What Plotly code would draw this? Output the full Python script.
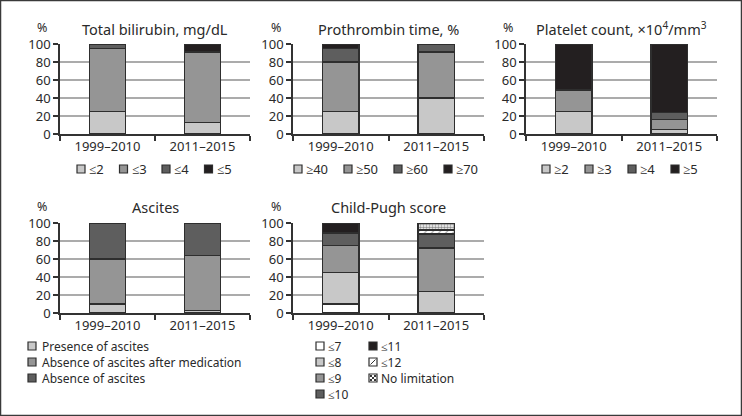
import plotly.graph_objects as go

# ---------------- data ----------------
periods = ["1999–2010", "2011–2015"]

bili_names = ["≤2", "≤3", "≤4", "≤5"]
bili_1999 = [25, 70, 5, 0]
bili_2011 = [13, 78, 0, 9]

pt_names = ["≥40", "≥50", "≥60", "≥70"]
pt_1999 = [25, 55, 15, 5]
pt_2011 = [40, 51, 9, 0]

plt_names = ["≥2", "≥3", "≥4", "≥5"]
plt_1999 = [25, 24, 0, 51]
plt_2011 = [5, 11, 8, 76]

asc_names = ["Presence of ascites", "Absence of ascites after medication", "Absence of ascites"]
asc_1999 = [10, 50, 40]
asc_2011 = [3, 61, 36]

cp_names = ["≤7", "≤8", "≤9", "≤10", "≤11", "≤12", "No limitation"]
cp_1999 = [10, 35, 30, 14, 11, 0, 0]
cp_2011 = [0, 24, 48, 16, 0, 4, 8]

y_ticks = [0, 20, 40, 60, 80, 100]

# ---------------- styles ----------------
W, H = 742, 416
LIGHT, MID, DARK, BLACK, WHITE = "#c8c8c8", "#959595", "#5e5e5e", "#231f20", "#ffffff"
EDGE = "#2e2e2e"
TXT = "#2a2a2a"
FONT = "Noto Sans"

def px(x):
    return x / W

def py(y):
    return 1 - y / H

four_cols = [LIGHT, MID, DARK, BLACK]
panels = [
    dict(title="Total bilirubin, mg/dL", names=bili_names, v1=bili_1999, v2=bili_2011,
         colors=four_cols, x0=60, x1=250, row=0, pct=42),
    dict(title="Prothrombin time, %", names=pt_names, v1=pt_1999, v2=pt_2011,
         colors=four_cols, x0=293, x1=484, row=0, pct=276),
    dict(title="Platelet count, ×10<sup>4</sup>/mm<sup>3</sup>", names=plt_names, v1=plt_1999, v2=plt_2011,
         colors=four_cols, x0=526, x1=717, row=0, pct=508),
    dict(title="Ascites", names=asc_names, v1=asc_1999, v2=asc_2011,
         colors=[LIGHT, MID, DARK], x0=60, x1=250, row=1, pct=42),
    dict(title="Child-Pugh score", names=cp_names, v1=cp_1999, v2=cp_2011,
         colors=[WHITE, LIGHT, MID, DARK, BLACK, WHITE, WHITE], x0=293, x1=484, row=1, pct=276),
]
rows_px = [(44, 134), (223, 313)]   # (y of 100, y of 0) in pixels
title_y = [29, 207]

patterns = {"≤12": dict(shape="/", fgcolor="#333333", bgcolor="white", size=5, solidity=0.2),
            "No limitation": dict(shape=".", fgcolor="#222222", bgcolor="white", size=3, solidity=0.55)}

fig = go.Figure()
layout = dict(width=W, height=H, margin=dict(l=0, r=0, t=0, b=0, pad=0),
              paper_bgcolor="white", plot_bgcolor="white", barmode="stack",
              showlegend=False, font=dict(family=FONT, size=13, color=TXT))
annotations = []
shapes = []

for i, p in enumerate(panels, start=1):
    xa = "x" if i == 1 else f"x{i}"
    ya = "y" if i == 1 else f"y{i}"
    for k, name in enumerate(p["names"]):
        marker = dict(color=p["colors"][k], line=dict(color=EDGE, width=1.5))
        if p["title"] == "Child-Pugh score" and name in patterns:
            marker["pattern"] = patterns[name]
        fig.add_trace(go.Bar(x=periods, y=[p["v1"][k], p["v2"][k]], name=name,
                             marker=marker, width=0.38, xaxis=xa, yaxis=ya,
                             hovertemplate=name + ": %{y}%<extra></extra>"))
    top, bot = rows_px[p["row"]]
    layout["xaxis" if i == 1 else f"xaxis{i}"] = dict(
        domain=[px(p["x0"]), px(p["x1"])], anchor=ya, type="category", automargin=False,
        tickson="boundaries", ticks="outside", ticklen=5, tickwidth=1.5, tickcolor="#333",
        showline=True, linecolor="#333", linewidth=1.5, showgrid=False,
        tickfont=dict(size=13, color=TXT, family=FONT))
    layout["yaxis" if i == 1 else f"yaxis{i}"] = dict(
        domain=[py(bot), py(top)], anchor=xa, range=[0, 100], tickvals=y_ticks, automargin=False,
        ticks="outside", ticklen=5, tickwidth=1.5, tickcolor="#333",
        showline=True, linecolor="#333", linewidth=1.5,
        showgrid=True, gridcolor="#ababab", gridwidth=1.5, zeroline=False,
        tickfont=dict(size=13, color=TXT, family=FONT))
    cx = (p["x0"] + p["x1"]) / 2
    annotations.append(dict(text=p["title"], x=px(cx), y=py(title_y[p["row"]]), xref="paper",
                            yref="paper", showarrow=False, xanchor="center", yanchor="middle",
                            font=dict(size=14.5, color=TXT, family=FONT)))
    annotations.append(dict(text="%", x=px(p["pct"]), y=py(title_y[p["row"]] - 1), xref="paper",
                            yref="paper", showarrow=False, xanchor="center", yanchor="middle",
                            borderpad=0, font=dict(size=12.5, color=TXT, family=FONT)))

# ---------------- legends (keys built from series names/colours) ----------------
SW = 8

def legend_key(x_left, yc, color, name, text_dx=11, size=12.5):
    shapes.append(dict(type="rect", xref="paper", yref="paper",
                       x0=px(x_left), x1=px(x_left + SW), y0=py(yc + SW / 2), y1=py(yc - SW / 2),
                       fillcolor=color, line=dict(color=EDGE, width=1.2)))
    if name == "≤12":
        shapes.append(dict(type="line", xref="paper", yref="paper",
                           x0=px(x_left + 1.5), x1=px(x_left + SW - 1.5),
                           y0=py(yc + SW / 2 - 1.5), y1=py(yc - SW / 2 + 1.5),
                           line=dict(color="#333", width=1)))
    if name == "No limitation":
        for dx in (2, 4, 6):
            for dy in (2, 4, 6):
                if (dx + dy) % 4 == 0:
                    shapes.append(dict(type="rect", xref="paper", yref="paper",
                                       x0=px(x_left + dx - 0.9), x1=px(x_left + dx + 0.9),
                                       y0=py(yc - SW / 2 + dy + 0.9), y1=py(yc - SW / 2 + dy - 0.9),
                                       fillcolor="#222", line=dict(width=0)))
    annotations.append(dict(text=name, x=px(x_left + text_dx), y=py(yc), xref="paper", yref="paper",
                            showarrow=False, xanchor="left", yanchor="middle", borderpad=0,
                            font=dict(size=size, color=TXT, family=FONT)))

row1_leg = [(77, 42.5), (294, 50), (542, 43)]
for p, (start, step) in zip(panels[:3], row1_leg):
    for k, name in enumerate(p["names"]):
        legend_key(start + k * step, 169, p["colors"][k], name, size=13)

for k, name in enumerate(panels[3]["names"]):
    legend_key(28, 346 + k * 16, panels[3]["colors"][k], name, text_dx=13, size=12)

cp_pos = [(316, 346), (316, 362), (316, 378), (316, 394), (369, 346), (369, 362), (369, 378)]
for k, name in enumerate(panels[4]["names"]):
    x, y = cp_pos[k]
    legend_key(x, y, panels[4]["colors"][k], name, size=12)

shapes.append(dict(type="rect", xref="paper", yref="paper", x0=0, x1=1, y0=0, y1=1,
                   line=dict(color="#3a3a3a", width=2.5), fillcolor="rgba(0,0,0,0)"))

layout["annotations"] = annotations
layout["shapes"] = shapes
fig.update_layout(**layout)
fig.write_html("out.html", config={"displayModeBar": False},
               post_script="document.body.style.margin='0';document.body.style.overflow='hidden';")
